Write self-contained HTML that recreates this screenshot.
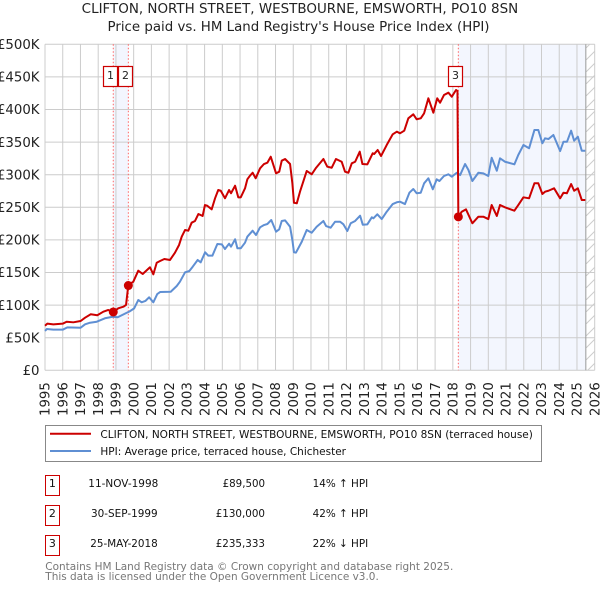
<!DOCTYPE html>
<html lang="en">
<head>
<meta charset="utf-8">
<title>CLIFTON, NORTH STREET, WESTBOURNE, EMSWORTH, PO10 8SN</title>
<style>
html,body{margin:0;padding:0;background:#fff;width:600px;height:590px;overflow:hidden}
svg{display:block;font-family:"DejaVu Sans","Liberation Sans",sans-serif}
</style>
</head>
<body>
<svg id="chart" xmlns="http://www.w3.org/2000/svg" width="600" height="590" viewBox="0 0 600 590">
  <defs>
    <pattern id="hatch" patternUnits="userSpaceOnUse" width="12" height="12" patternTransform="translate(586 0)">
      <path d="M-1 13L13 -1" stroke="#ccc" stroke-width="1" fill="none"/>
    </pattern>
  </defs>
  <rect width="600" height="590" fill="#fff"/>
  <text x="81.7" y="13" font-size="13.3" fill="#222" textLength="436.5" lengthAdjust="spacingAndGlyphs">CLIFTON, NORTH STREET, WESTBOURNE, EMSWORTH, PO10 8SN</text>
  <text x="107.5" y="31" font-size="13.3" fill="#222" textLength="382" lengthAdjust="spacingAndGlyphs">Price paid vs. HM Land Registry's House Price Index (HPI)</text>
  <g id="plot"></g>

  <g>
    <rect x="45.5" y="425.5" width="496" height="36" fill="#fff" stroke="#888" stroke-width="1"/>
    <line x1="50" x2="91" y1="433.7" y2="433.7" stroke="#cc0000" stroke-width="2"/>
    <text x="100.4" y="438" font-size="11" fill="#111" textLength="432.5" lengthAdjust="spacingAndGlyphs">CLIFTON, NORTH STREET, WESTBOURNE, EMSWORTH, PO10 8SN (terraced house)</text>
    <line x1="50" x2="91" y1="451" y2="451" stroke="#5f8fd3" stroke-width="2"/>
    <text x="100.4" y="455" font-size="11" fill="#111" textLength="245.6" lengthAdjust="spacingAndGlyphs">HPI: Average price, terraced house, Chichester</text>
  </g>

  <g font-size="11" fill="#111">
    <g>
      <rect x="45.5" y="475.5" width="14" height="20" fill="#fff" stroke="#cc0000"/>
      <text x="52.4" y="487" text-anchor="middle">1</text>
      <text x="88.3" y="487" textLength="70" lengthAdjust="spacingAndGlyphs">11-NOV-1998</text>
      <text x="222.6" y="487" textLength="42.5" lengthAdjust="spacingAndGlyphs">£89,500</text>
      <text x="312.6" y="487" textLength="55.6" lengthAdjust="spacingAndGlyphs">14% ↑ HPI</text>
    </g>
    <g>
      <rect x="45.5" y="505.5" width="14" height="20" fill="#fff" stroke="#cc0000"/>
      <text x="52.4" y="517" text-anchor="middle">2</text>
      <text x="91" y="517" textLength="66.7" lengthAdjust="spacingAndGlyphs">30-SEP-1999</text>
      <text x="215.7" y="517" textLength="49.3" lengthAdjust="spacingAndGlyphs">£130,000</text>
      <text x="312.6" y="517" textLength="55.6" lengthAdjust="spacingAndGlyphs">42% ↑ HPI</text>
    </g>
    <g>
      <rect x="45.5" y="535.5" width="14" height="20" fill="#fff" stroke="#cc0000"/>
      <text x="52.4" y="547" text-anchor="middle">3</text>
      <text x="90.3" y="547" textLength="67.4" lengthAdjust="spacingAndGlyphs">25-MAY-2018</text>
      <text x="215.7" y="547" textLength="49.3" lengthAdjust="spacingAndGlyphs">£235,333</text>
      <text x="312.6" y="547" textLength="55.6" lengthAdjust="spacingAndGlyphs">22% ↓ HPI</text>
    </g>
  </g>

  <text x="45.3" y="570" font-size="11" fill="#777" textLength="408" lengthAdjust="spacingAndGlyphs">Contains HM Land Registry data © Crown copyright and database right 2025.</text>
  <text x="45.3" y="580" font-size="11" fill="#777" textLength="333.5" lengthAdjust="spacingAndGlyphs">This data is licensed under the Open Government Licence v3.0.</text>
</svg>

<script>
const hpiYears = [1995.0,1995.1,1995.47,1996.0,1996.26,1997.01,1997.26,1997.54,1997.92,1998.38,1998.82,1999.1,1999.61,1999.75,2000.03,2000.26,2000.45,2000.66,2000.87,2001.11,2001.33,2001.49,2002.09,2002.43,2002.61,2002.9,2003.14,2003.33,2003.61,2003.78,2004.03,2004.21,2004.44,2004.72,2004.97,2005.15,2005.38,2005.49,2005.72,2005.85,2006.04,2006.28,2006.41,2006.71,2006.9,2007.13,2007.35,2007.54,2007.76,2008.03,2008.21,2008.35,2008.54,2008.82,2008.95,2009.04,2009.15,2009.48,2009.76,2010.04,2010.32,2010.7,2010.85,2011.11,2011.36,2011.64,2011.83,2012.05,2012.24,2012.49,2012.77,2012.92,2013.18,2013.43,2013.52,2013.74,2013.99,2014.27,2014.61,2014.84,2015.02,2015.3,2015.55,2015.77,2015.96,2016.19,2016.38,2016.62,2016.87,2017.09,2017.24,2017.5,2017.75,2017.94,2018.22,2018.41,2018.69,2018.88,2019.1,2019.44,2019.72,2020.0,2020.19,2020.48,2020.66,2020.94,2021.47,2021.69,2021.98,2022.3,2022.6,2022.82,2023.05,2023.2,2023.39,2023.67,2024.05,2024.24,2024.44,2024.67,2024.84,2025.05,2025.27,2025.47];
const hpiValues = [60.3,63.3,62.3,62.3,65.9,65.3,70.5,73,74.5,79.8,82.2,81.3,88.3,90,95,107.8,104.3,106.3,112,104.3,117,120,120.5,129.3,135.9,150.3,152.3,158.9,169.2,165.6,181,175.8,175.8,193.7,193.2,186,194.2,189.6,200.9,187.1,187.1,195.7,204.9,214.1,207.5,219.3,222.8,224.4,230.5,212.6,216.3,229,230,220.2,199.8,181,180.4,197.2,215.2,211,220.2,229,221.3,218.7,227.9,227.9,223.9,213.6,225.5,229,237.1,223.3,223.9,234.7,233.1,239.3,232,243.2,255,257.7,258.6,255,272.4,278,271.5,272.4,286.8,294.5,277.6,292.9,290.3,298,300.6,296.9,303,299.5,316.4,307.2,290.3,303,302.1,298,326,306.1,325.1,319.9,315.9,330.2,345.5,340.5,368.5,368.5,348.2,355.8,354.7,360.9,336.3,350.6,350.6,367.5,352.1,358.3,336.8,336.8];

const paidYears = [1995.0,1995.13,1995.47,1996.0,1996.22,1996.6,1997.01,1997.26,1997.58,1997.95,1998.29,1998.57,1998.85,1999.13,1999.42,1999.57,1999.7,1999.98,2000.26,2000.51,2000.92,2001.11,2001.3,2001.49,2001.73,2002.05,2002.33,2002.56,2002.71,2002.9,2003.08,2003.27,2003.46,2003.65,2003.89,2004.02,2004.15,2004.4,2004.59,2004.77,2004.91,2005.15,2005.38,2005.49,2005.72,2005.9,2006.04,2006.28,2006.41,2006.56,2006.71,2006.88,2007.13,2007.35,2007.54,2007.73,2008.03,2008.21,2008.35,2008.54,2008.82,2008.95,2009.04,2009.2,2009.38,2009.76,2010.04,2010.29,2010.7,2010.92,2011.17,2011.41,2011.73,2011.92,2012.11,2012.3,2012.49,2012.75,2012.9,2013.18,2013.48,2013.56,2013.76,2013.95,2014.27,2014.61,2014.84,2015.02,2015.26,2015.49,2015.77,2015.96,2016.19,2016.38,2016.62,2016.9,2017.12,2017.28,2017.5,2017.75,2017.94,2018.18,2018.26,2018.31,2018.5,2018.74,2019.1,2019.44,2019.72,2020.0,2020.19,2020.48,2020.66,2020.94,2021.47,2021.69,2021.98,2022.3,2022.6,2022.82,2023.05,2023.2,2023.39,2023.71,2024.05,2024.24,2024.43,2024.67,2024.84,2025.05,2025.27,2025.47];
const paidValues = [68.4,71.5,70.5,71.5,74.5,73.6,75.6,80.7,85.9,84.4,89.9,92.5,89,95.1,97.5,100.2,130.8,135.9,152.8,147.7,158,147.2,165,167.6,170.7,169.2,180.4,192.2,204.9,215.2,214.1,226.4,229,239.7,236.7,253.5,252.4,246.9,263.8,276.5,275.4,263.8,276.5,271.5,283.1,265.3,265.3,279.1,292.9,298.5,303,294.5,309.8,316.4,318.4,327.6,302.1,304.6,321.5,324.1,316.4,286.8,257,256.1,273.9,305.7,300.6,310.7,324.1,312.3,310.7,324.1,319.9,304.6,303,317.5,319.9,335.3,316.4,315.9,332.8,331.7,337.9,328.7,345.5,362,366,363.5,367.5,386.5,392.6,385,386.5,394.2,417.2,395.1,417.2,410.4,422.2,425.8,419.6,429.9,428.4,235.3,243.2,246.9,225.5,235.6,235.6,232,253.5,236.7,253.5,250,244.8,253.5,265.3,263.8,286.8,286.8,270.4,273.9,275.4,279.1,263.8,272.4,271.5,285.7,275.4,279.1,261.2,261.2];

const saleLabels = ['1','2','3'];
const saleYears = [1998.85,1999.7,2018.31];
const salePrices = [89.5,130,235.333];
const yTickValues = [0,50,100,150,200,250,300,350,400,450,500];
const yTickLabels = ['£0','£50K','£100K','£150K','£200K','£250K','£300K','£350K','£400K','£450K','£500K'];
const xTickYears = [1995,1996,1997,1998,1999,2000,2001,2002,2003,2004,2005,2006,2007,2008,2009,2010,2011,2012,2013,2014,2015,2016,2017,2018,2019,2020,2021,2022,2023,2024,2025,2026];
const dataEndYear = 2025.5;

const plotLeft = 45, plotRight = 594.7, plotTop = 44.3, plotBottom = 370.3;
const xScale = function (year) { return plotLeft + (year - 1995) * (plotRight - plotLeft) / 31; };
const yScale = function (value) { return plotBottom - value * (plotBottom - plotTop) / 500; };

const NS = 'http://www.w3.org/2000/svg';
const plot = document.getElementById('plot');
function make(tag, attrs, parent) {
  const el = document.createElementNS(NS, tag);
  Object.keys(attrs).forEach(function (k) { el.setAttribute(k, attrs[k]); });
  (parent || plot).appendChild(el);
  return el;
}

// shaded spans
let el = make('rect', {x: xScale(saleYears[0]), y: plotTop, width: xScale(saleYears[1]) - xScale(saleYears[0]), height: plotBottom - plotTop, fill: '#f3f6fe'});


el = make('rect', {x: xScale(saleYears[2]), y: plotTop, width: xScale(dataEndYear) - xScale(saleYears[2]), height: plotBottom - plotTop, fill: '#f3f6fe'});


el = make('rect', {x: xScale(dataEndYear), y: plotTop, width: plotRight - xScale(dataEndYear), height: plotBottom - plotTop, fill: 'url(#hatch)'});



// grid and tick labels
yTickValues.forEach(function (v, i) {
  const line = make('line', {x1: plotLeft, x2: plotRight, y1: yScale(v), y2: yScale(v), stroke: '#ccc', 'stroke-width': 1});
  
  
  const label = make('text', {x: 39.5, y: yScale(v) + 4.7, 'font-size': 13.3, 'text-anchor': 'end', fill: '#222'});
  
  
  label.textContent = yTickLabels[i];
});
xTickYears.forEach(function (yr) {
  const x = xScale(yr);
  const line = make('line', {x1: x, x2: x, y1: plotTop, y2: plotBottom, stroke: '#ccc', 'stroke-width': 1});
  
  
  const label = make('text', {transform: 'translate(' + (x + 4.7) + ',416) rotate(-90)', 'font-size': 13.3, fill: '#222'});
  
  
  label.textContent = String(yr);
});

// data end line
el = make('line', {x1: xScale(dataEndYear), x2: xScale(dataEndYear), y1: plotTop, y2: plotBottom, stroke: '#999', 'stroke-width': 1});



// sale verticals
saleYears.forEach(function (yr) {
  const line = make('line', {x1: xScale(yr), x2: xScale(yr), y1: plotTop, y2: plotBottom, stroke: '#ff6666', 'stroke-width': 1, 'stroke-dasharray': '1.5 2'});
  
  
});

function linePath(years, values) {
  return years.map(function (yr, i) {
    return (i ? 'L' : 'M') + xScale(yr).toFixed(2) + ' ' + yScale(values[i]).toFixed(2);
  }).join('');
}
el = make('path', {d: linePath(hpiYears, hpiValues), fill: 'none', stroke: '#5f8fd3', 'stroke-width': 2, 'stroke-linejoin': 'round'});


el = make('path', {d: linePath(paidYears, paidValues), fill: 'none', stroke: '#cc0000', 'stroke-width': 2, 'stroke-linejoin': 'round'});



// sale points
saleYears.forEach(function (yr, i) {
  const dot = make('circle', {cx: xScale(yr), cy: yScale(salePrices[i]), r: 4.5, fill: '#cc0000'});
  
  
});

// numbered flags
const flagOffset = -10;
saleYears.forEach(function (yr, i) {
  const left = Math.round(xScale(yr) + flagOffset);
  const box = make('rect', {x: left + 0.5, y: 66.5, width: 14, height: 20, fill: '#fff', stroke: '#cc0000', 'stroke-width': 1.2});
  
  
  const num = make('text', {x: left + 7.5, y: 79, 'font-size': 11, 'text-anchor': 'middle', fill: '#222'});
  
  
  num.textContent = saleLabels[i];
});
</script>
</body>
</html>
